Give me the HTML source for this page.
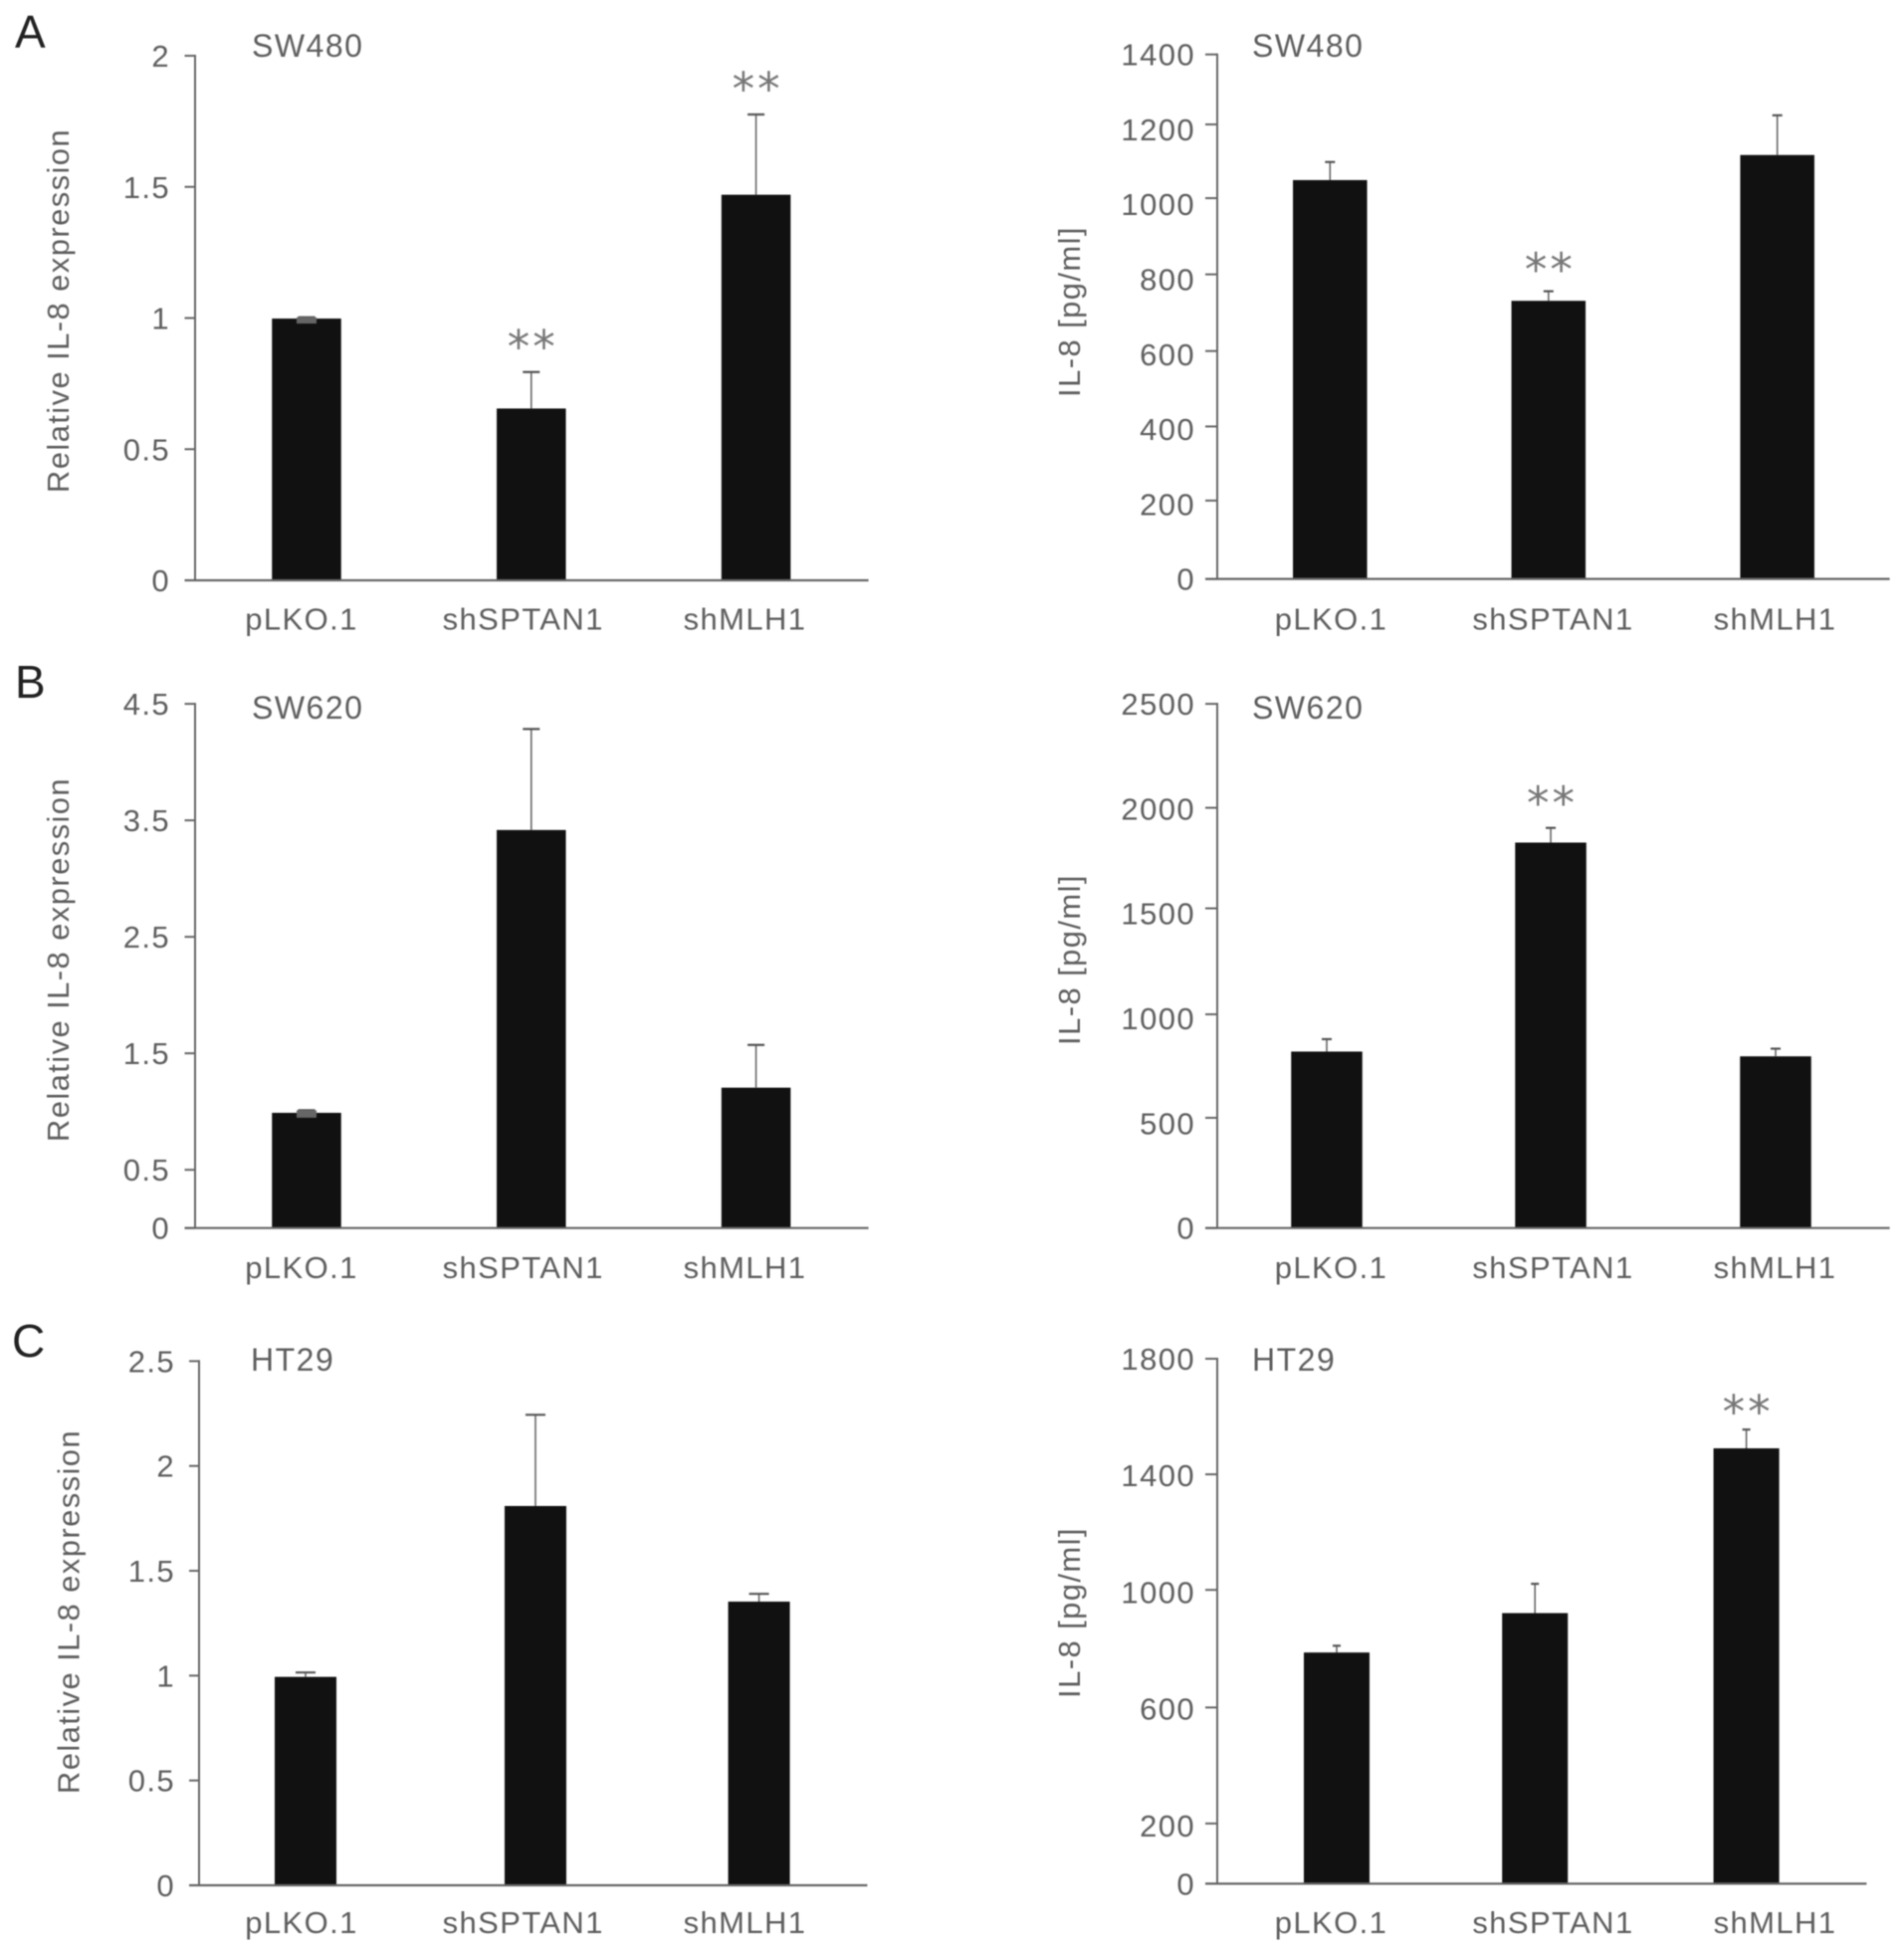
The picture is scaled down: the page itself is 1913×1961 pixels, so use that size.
<!DOCTYPE html>
<html lang="en">
<head>
<meta charset="utf-8">
<title>IL-8 expression and secretion in SW480, SW620 and HT29 cells</title>
<style>
html,body{margin:0;padding:0;background:#fff;}
svg{display:block;filter:blur(0.6px);}
text{font-family:"Liberation Sans",Arial,sans-serif;font-size:31px;fill:#5e5e5e;letter-spacing:1.4px;}
.cell-line{font-size:32px;letter-spacing:1.5px;}
.panel-letter{font-size:46px;fill:#222;letter-spacing:0;}
.stars{font-family:"DejaVu Sans",sans-serif;font-size:45px;fill:#777;letter-spacing:3px;}
</style>
</head>
<body>
<svg id="figure" xmlns="http://www.w3.org/2000/svg" width="1913" height="1961" viewBox="0 0 1913 1961">
  <rect width="1913" height="1961" fill="#fff"/>
  <text class="panel-letter" x="15" y="48">A</text>
  <text class="panel-letter" x="15" y="701">B</text>
  <text class="panel-letter" x="12" y="1363">C</text>

  <text class="cell-line" x="253" y="57">SW480</text>
  <text class="cell-line" x="1258" y="57">SW480</text>
  <text class="cell-line" x="253" y="722">SW620</text>
  <text class="cell-line" x="1258" y="722">SW620</text>
  <text class="cell-line" x="252" y="1377">HT29</text>
  <text class="cell-line" x="1258" y="1377">HT29</text>

  <text text-anchor="middle" transform="translate(69 312) rotate(-90)">Relative IL-8 expression</text>
  <text text-anchor="middle" transform="translate(69 964) rotate(-90)">Relative IL-8 expression</text>
  <text text-anchor="middle" transform="translate(79.5 1619) rotate(-90)">Relative IL-8 expression</text>
  <text text-anchor="middle" transform="translate(1085 313) rotate(-90)">IL-8 [pg/ml]</text>
  <text text-anchor="middle" transform="translate(1085 964) rotate(-90)">IL-8 [pg/ml]</text>
  <text text-anchor="middle" transform="translate(1085 1620) rotate(-90)">IL-8 [pg/ml]</text>
</svg>
<script>
const categories = ['pLKO.1', 'shSPTAN1', 'shMLH1'];

const ticksRelA = [0, 0.5, 1, 1.5, 2];
const meansRelA = [0.998, 0.655, 1.47];
const errTopRelA = [1.003, 0.794, 1.776];
const errLowRelA = [0.979, null, null];
const sigRelA = [0, 2, 2];

const ticksConcA = [0, 200, 400, 600, 800, 1000, 1200, 1400];
const meansConcA = [1049, 731, 1117];
const errTopConcA = [1098, 756, 1226];
const errLowConcA = [null, null, null];
const sigConcA = [0, 2, 0];

const ticksRelB = [0, 0.5, 1.5, 2.5, 3.5, 4.5];
const meansRelB = [0.989, 3.417, 1.205];
const errTopRelB = [1.011, 4.284, 1.572];
const errLowRelB = [0.947, null, null];
const sigRelB = [0, 0, 0];

const ticksConcB = [0, 500, 1000, 1500, 2000, 2500];
const meansConcB = [820, 1827, 797];
const errTopConcB = [880, 1900, 834];
const errLowConcB = [null, null, null];
const sigConcB = [0, 2, 0];

const ticksRelC = [0, 0.5, 1, 1.5, 2, 2.5];
const meansRelC = [0.994, 1.809, 1.353];
const errTopRelC = [1.015, 2.244, 1.39];
const errLowRelC = [null, null, null];
const sigRelC = [0, 0, 0];

const ticksConcC = [0, 200, 600, 1000, 1400, 1800];
const meansConcC = [787, 921, 1490];
const errTopConcC = [810, 1021, 1555];
const errLowConcC = [null, null, null];
const sigConcC = [0, 0, 2];

const SVG_NS = 'http://www.w3.org/2000/svg';
const figure = document.getElementById('figure');

function el(parent, tag, attrs) {
  const node = document.createElementNS(SVG_NS, tag);
  for (const k in attrs) node.setAttribute(k, attrs[k]);
  parent.appendChild(node);
  return node;
}

function drawPanel(p) {
  const group = el(figure, 'g', {});
  
  

  const vMax = p.ticks[p.ticks.length - 1];
  const span = p.base - p.top;
  const yLinear = function (v) { return p.base - (v / vMax) * span; };
  // The printed axis is slightly uneven in some panels: tick marks sit at
  // calibrated fractions of the axis height, values interpolate between them.
  const y = function (v) {
    if (!p.axisFrac) return yLinear(v);
    for (let k = 1; k < p.ticks.length; k++) {
      if (v <= p.ticks[k] || k === p.ticks.length - 1) {
        const t = (v - p.ticks[k - 1]) / (p.ticks[k] - p.ticks[k - 1]);
        return p.base - (p.axisFrac[k - 1] + t * (p.axisFrac[k] - p.axisFrac[k - 1])) * span;
      }
    }
  };
  const x = function (i) { return p.x0 + p.slots[i] * p.step; };

  // bars
  p.means.forEach(function (v, i) {
    const bar = el(group, 'rect', {
      x: x(i) - p.barW / 2, y: y(v), width: p.barW, height: p.base - y(v), fill: '#111'
    });
    
    
  });

  // error bars
  p.errTop.forEach(function (v, i) {
    const stem = el(group, 'line', {
      x1: x(i), x2: x(i), y1: y(v), y2: y(p.means[i]), stroke: '#666', 'stroke-width': 1.6
    });
    
    
    const cap = el(group, 'line', {
      x1: x(i) - p.capW / 2, x2: x(i) + p.capW / 2, y1: y(v), y2: y(v), stroke: '#555', 'stroke-width': 2.2
    });
    
    
    if (p.errLow[i] !== null) {
      const lower = el(group, 'rect', {
        x: x(i) - 10, y: y(v), width: 20, height: y(p.errLow[i]) - y(v), fill: '#666'
      });
      
      
    }
  });

  // significance stars
  p.sig.forEach(function (n, i) {
    if (!n) return;
    const star = el(group, 'text', {
      class: 'stars', x: x(i) + 1.5, y: y(p.errTop[i]) + p.starDy, 'text-anchor': 'middle'
    });
    star.textContent = '*'.repeat(n);
    
    
  });

  // axes
  const yAxis = el(group, 'line', {
    x1: p.axisX, x2: p.axisX, y1: p.top - 1, y2: p.base, stroke: '#666', 'stroke-width': 2
  });
  
  
  const xAxis = el(group, 'line', {
    x1: p.tickL, x2: p.end, y1: p.base, y2: p.base, stroke: '#666', 'stroke-width': 2.2
  });
  
  

  // y ticks
  p.ticks.forEach(function (t) {
    const mark = el(group, 'line', {
      x1: p.tickL, x2: p.axisX, y1: y(t), y2: y(t), stroke: '#666', 'stroke-width': 2
    });
    
    
    const label = el(group, 'text', {
      x: p.labelEnd, y: yLinear(t) + 11, 'text-anchor': 'end'
    });
    label.textContent = String(t);
    
    
  });

  // category labels
  categories.forEach(function (c, i) {
    const label = el(group, 'text', {
      x: p.catX0 + i * p.catStep, y: p.catY, 'text-anchor': 'middle'
    });
    label.textContent = c;
    
    
  });
}

const leftCats = { catX0: 303, catStep: 222.75, labelEnd: 171 };
const rightCats = { catX0: 1337.5, catStep: 223, labelEnd: 1201 };

drawPanel(Object.assign({}, leftCats, {
  id: 'a-left', ticks: ticksRelA, means: meansRelA, errTop: errTopRelA, errLow: errLowRelA, sig: sigRelA,
  axisX: 196, tickL: 185.5, end: 872.6, top: 56, base: 583, catY: 632.5,
  x0: 308, step: 225.8, slots: [0, 1, 2], barW: 69.5, capW: 17, starDy: -10
}));
drawPanel(Object.assign({}, rightCats, {
  id: 'a-right', ticks: ticksConcA, means: meansConcA, errTop: errTopConcA, errLow: errLowConcA, sig: sigConcA,
  axisFrac: [0, 0.1494, 0.2907, 0.4345, 0.5807, 0.726, 0.8666, 1],
  axisX: 1223, tickL: 1211, end: 1898.6, top: 54.7, base: 581.6, catY: 632.5,
  x0: 1336.3, step: 224.7, slots: [0, 0.977, 2], barW: 74.5, capW: 10, starDy: -6
}));
drawPanel(Object.assign({}, leftCats, {
  id: 'b-left', ticks: ticksRelB, means: meansRelB, errTop: errTopRelB, errLow: errLowRelB, sig: sigRelB,
  axisX: 196, tickL: 185.5, end: 872.6, top: 707.1, base: 1233.7, catY: 1284,
  x0: 308, step: 225.8, slots: [0, 1, 2], barW: 69.5, capW: 17, starDy: -10
}));
drawPanel(Object.assign({}, rightCats, {
  id: 'b-right', ticks: ticksConcB, means: meansConcB, errTop: errTopConcB, errLow: errLowConcB, sig: sigConcB,
  axisFrac: [0, 0.2103, 0.4077, 0.6099, 0.8017, 1],
  axisX: 1223, tickL: 1211, end: 1898.6, top: 707.1, base: 1233.7, catY: 1284,
  x0: 1333, step: 225.5, slots: [0, 0.998, 2], barW: 71.5, capW: 10, starDy: -9
}));
drawPanel(Object.assign({}, leftCats, {
  id: 'c-left', ticks: ticksRelC, means: meansRelC, errTop: errTopRelC, errLow: errLowRelC, sig: sigRelC,
  labelEnd: 176,
  axisX: 200, tickL: 190, end: 871.4, top: 1367.4, base: 1894, catY: 1942,
  x0: 307, step: 227.8, slots: [0, 1.014, 2], barW: 62, capW: 20, starDy: -10
}));
drawPanel(Object.assign({}, rightCats, {
  id: 'c-right', ticks: ticksConcC, means: meansConcC, errTop: errTopConcC, errLow: errLowConcC, sig: sigConcC,
  axisFrac: [0, 0.1147, 0.3357, 0.5597, 0.7798, 1],
  axisX: 1223, tickL: 1211, end: 1875.4, top: 1365, base: 1892.4, catY: 1942,
  x0: 1343, step: 205.8, slots: [0, 0.968, 2], barW: 66, capW: 8, starDy: -2
}));
</script>
</body>
</html>
